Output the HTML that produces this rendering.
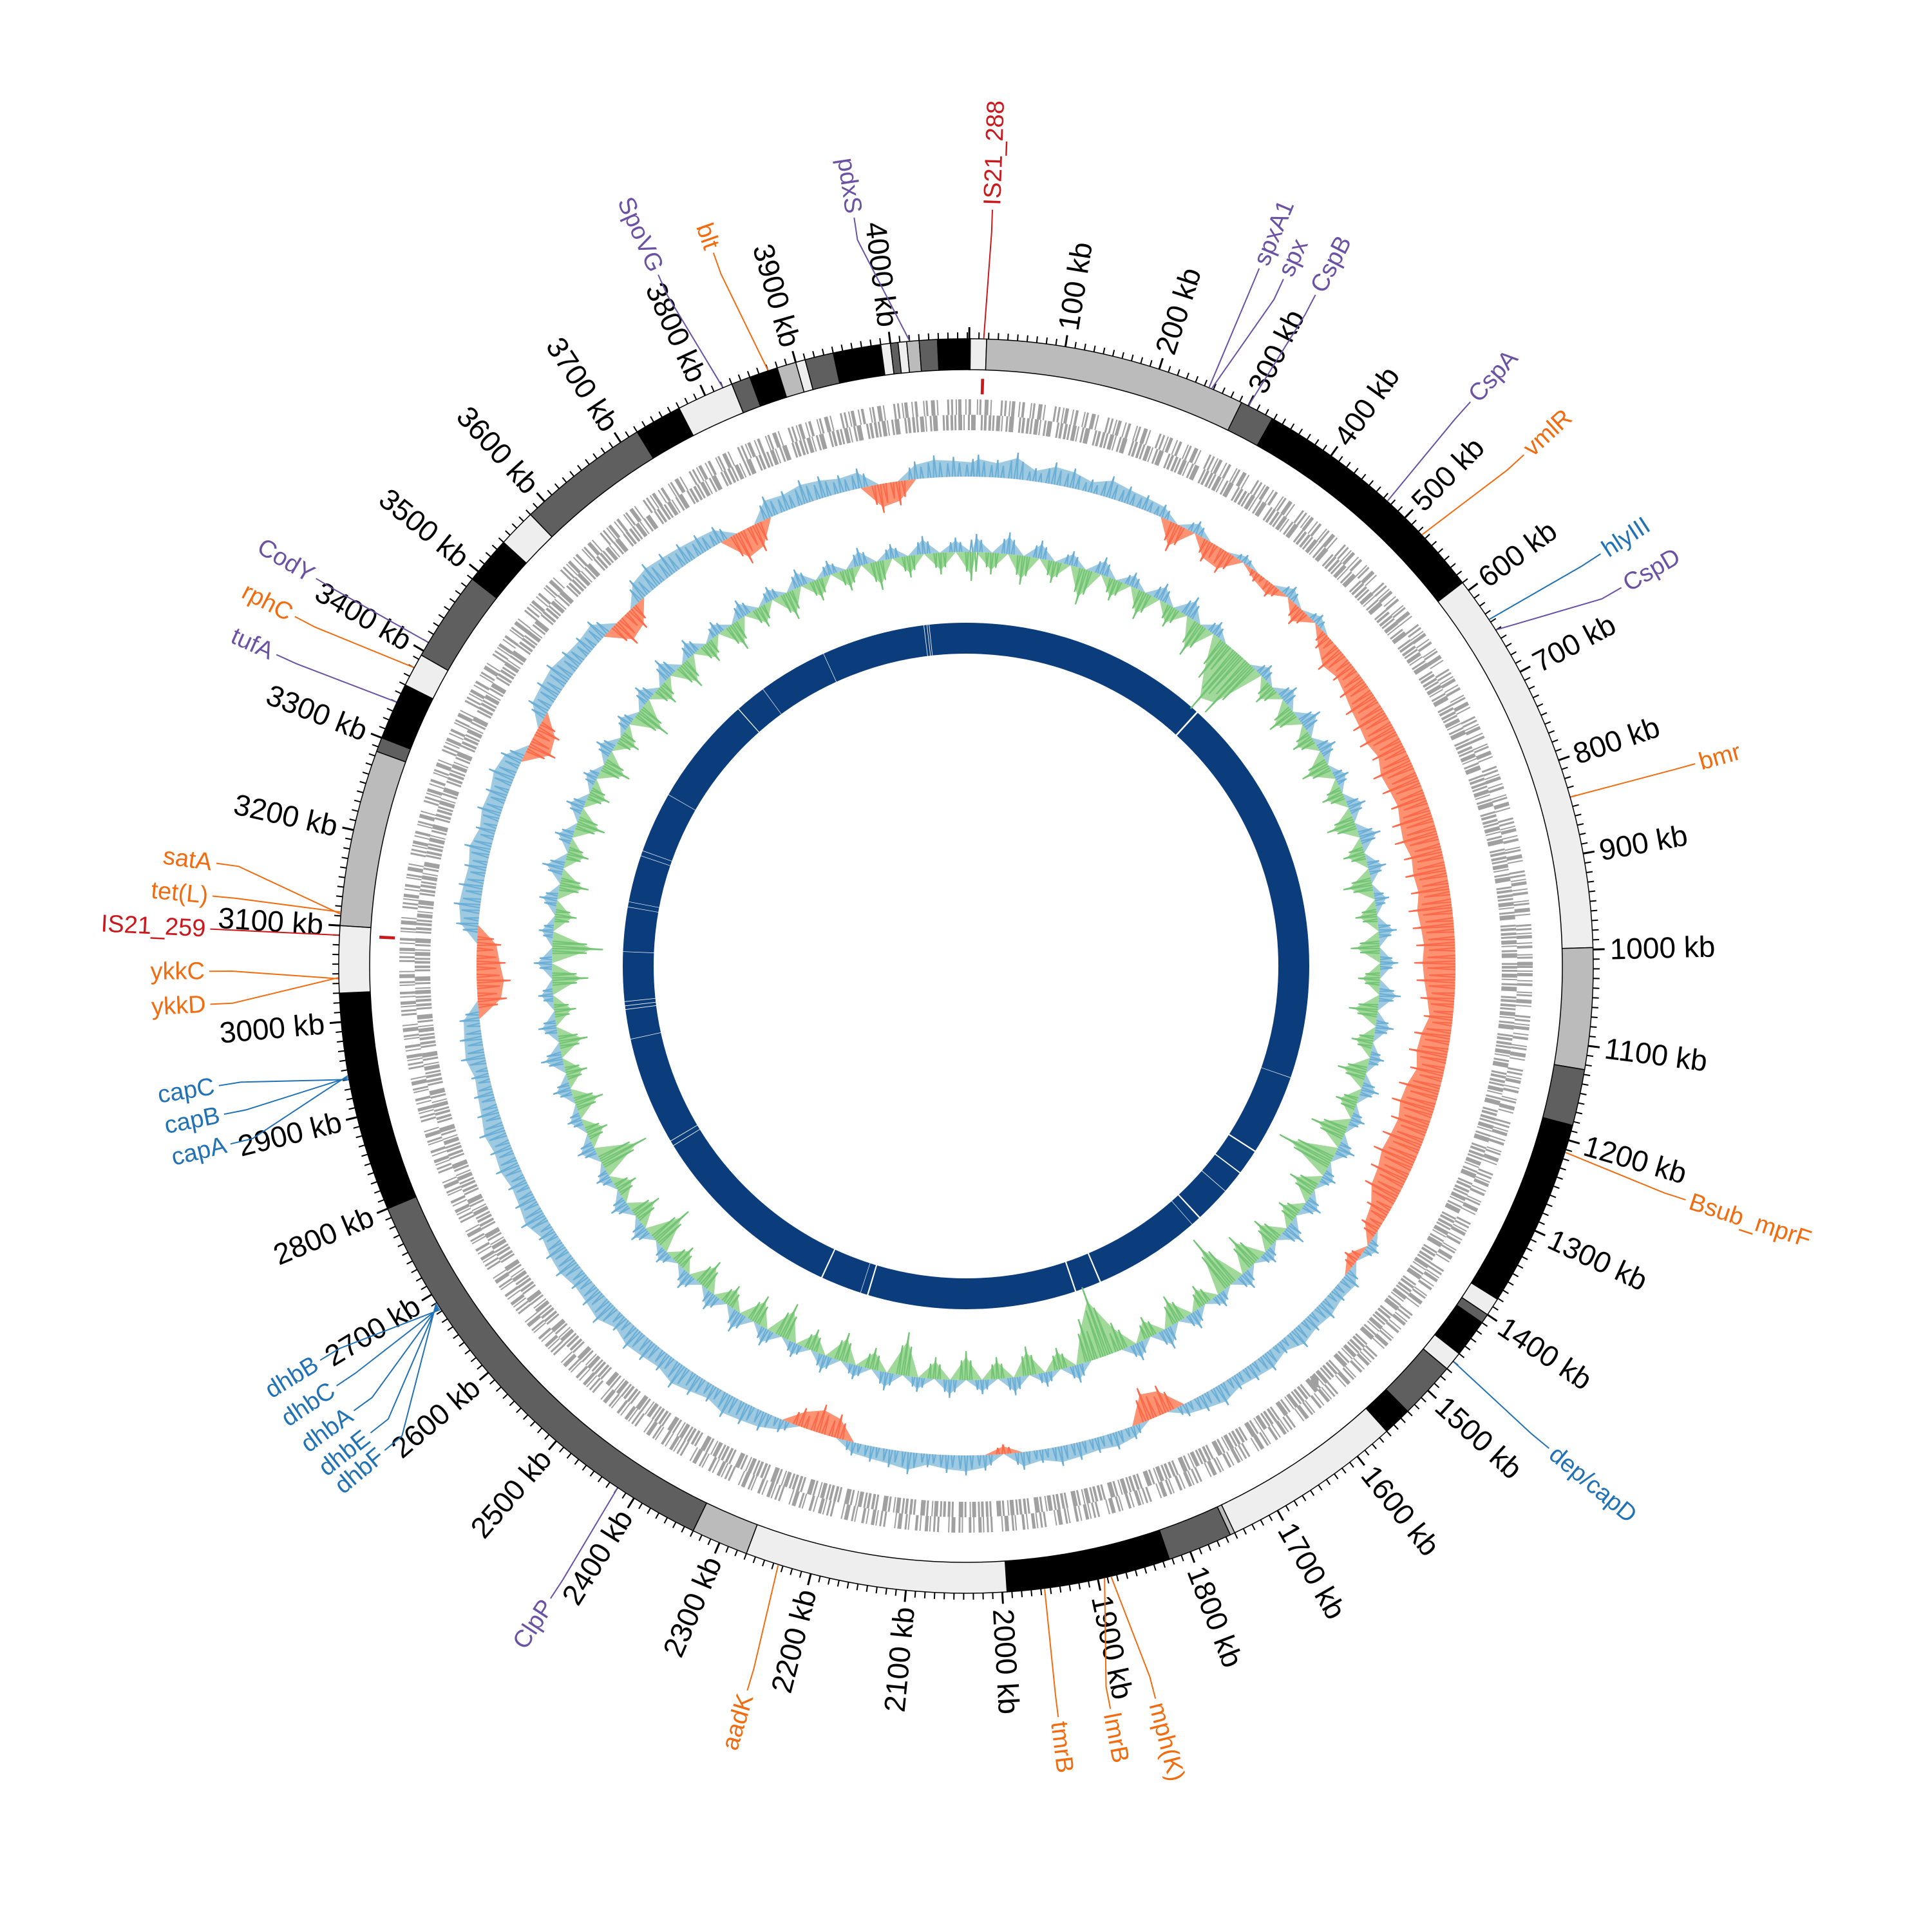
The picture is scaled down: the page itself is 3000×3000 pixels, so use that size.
<!DOCTYPE html>
<html><head><meta charset="utf-8"><style>
html,body{margin:0;padding:0;background:#fff}
svg{display:block}
text{font-family:"Liberation Sans",sans-serif}
</style></head><body>
<svg id="chart" xmlns="http://www.w3.org/2000/svg" width="3000" height="3000" viewBox="0 0 3000 3000">
<rect width="3000" height="3000" fill="#fff"/>
<g id="gBlue"></g>
<g id="gTrack4"></g>
<g id="gTrack3"></g>
<g id="gGenes"></g>
<g id="gContigs"></g>
<g id="gTicks"></g>
<g id="gLabels"></g>
</svg>
<script>
// ---- data ----
const genomeKb = 4082;
const W='#eeeeee', L='#bbbbbb', D='#5f5f5f', B='#000000';
const contigSegments = [[0,W],[18,L],[292,D],[328,B],[590,W],[998,L],[1125,D],[1184,B],[1381,W],[1400,D],[1410,B],[1450,W],[1470,D],[1530,B],[1560,W],[1750,L],[1755,D],[1823,B],[1995,W],[2270,L],[2330,D],[2800,B],[3030,W],[3100,L],[3285,D],[3300,B],[3360,W],[3395,D],[3490,B],[3540,W],[3580,D],[3720,B],[3770,W],[3830,D],[3850,B],[3880,L],[3900,W],[3910,D],[3940,B],[3990,W],[4000,D],[4008,W],[4017,L],[4030,D],[4049,B],[4083,W]];
const blueGapKb = [475,1232,1386,1436,1481,1550,1570,1775,1825,2225,2240,2318,2700,2710,2918,2975,2982,2990,3085,3170,3180,3270,3280,3397,3607,3667,3800,3998,4004,4008];
const blueGapWidthKb = [6,1,5,4,2,5,1,5,5,5,1,5,2,2,1,2,2,2,1,1,1,1,1,1,3,1,1,2,2,2];
const binKb = 25;
const skewValues = [0.5,0.4,0.6,0.3,0.5,0.45,0.3,0.5,0.4,0.35,
 0.3,-0.6,0.3,-0.45,-0.5,0.2,
 -0.2,-0.3,0.3,-0.4,0.25,-0.35,-0.6,-0.5,
 -0.6,-0.7,-0.75,-0.8,-0.7,-0.85,-0.8,-0.75,-0.85,-0.9,-0.8,-0.85,-0.8,-0.9,-0.85,-0.8,
 -0.85,-0.8,-0.7,-0.6,-0.75,-0.8,-0.7,-0.85,-0.9,-0.8,-0.85,-0.9,-0.8,-0.75,-0.5,-0.4,
 0.3,-0.3,0.4,0.35,0.45,0.4,0.5,0.3,0.45,0.4,0.35,0.5,0.4,0.3,
 -0.6,-0.7,0.3,0.4,0.35,0.4,
 0.45,0.3,0.4,-0.2,0.35,0.45,0.4,0.3,0.5,0.4,0.35,0.3,
 -0.5,-0.6,-0.4,0.3,
 0.45,0.5,0.55,0.4,0.5,0.6,0.45,0.5,0.55,0.4,0.6,0.5,0.45,0.55,0.5,0.4,0.6,0.5,0.45,0.55,0.5,0.6,0.5,0.45,0.4,0.55,0.5,0.45,
 -0.6,-0.7,-0.6,-0.5,
 0.5,0.6,0.55,0.5,0.6,0.45,0.55,0.5,0.6,0.5,
 -0.6,-0.5,
 0.5,0.55,0.6,0.5,0.45,0.5,
 -0.6,-0.5,
 0.5,0.6,0.55,0.5,0.45,0.4,
 -0.7,-0.6,
 0.5,0.45,0.55,0.5,0.4,0.45,
 -0.6,-0.5,
 0.4,0.5,0.45,0.4];
const gcValues = [0.5,-0.3,0.6,-0.4,0.5,-0.3,0.4,-0.5,0.5,-0.3,
 0.4,-0.4,0.5,-0.3,0.6,-0.5,0.4,-0.6,-1.0,-0.9,
 0.4,-0.3,0.5,-0.4,0.6,-0.3,0.5,-0.4,0.4,-0.3,
 0.5,-0.4,0.6,-0.3,0.5,-0.4,0.4,-0.3,0.5,-0.4,
 0.5,-0.3,0.6,-0.4,0.5,-0.3,0.4,-0.4,0.5,-0.3,
 0.4,-0.5,0.5,-0.8,0.4,-0.4,0.5,-0.3,0.6,-0.4,
 0.4,-0.5,0.5,-0.8,0.4,-0.3,0.5,-0.4,0.6,-0.3,
 0.5,-0.4,-1.0,-0.6,0.5,-0.3,0.4,-0.4,0.5,-0.3,
 0.4,-0.4,0.5,-0.3,0.4,-0.6,0.5,-0.3,0.4,-0.4,
 0.5,-0.3,0.4,-0.5,0.5,-0.4,0.6,-0.3,0.5,-0.4,
 0.5,-0.3,0.4,-0.6,0.5,-0.4,0.5,-0.3,0.4,-0.7,
 0.5,-0.3,0.4,-0.4,0.5,-0.3,0.6,-0.4,0.5,-0.3,
 0.4,-0.5,0.5,-0.7,0.4,-0.3,0.5,-0.4,0.6,-0.3,
 0.5,-0.4,0.5,-0.3,0.4,-0.4,0.5,-0.3,0.4,-0.5,
 0.5,-0.3,0.6,-0.4,0.5,-0.3,0.4,-0.4,0.5,-0.3,
 0.4,-0.4,0.5,-0.3,0.4,-0.3,0.5,-0.4,0.4,-0.3,
 0.5,-0.3,0.4,-0.4];
const tickLabelsKb = [100,200,300,400,500,600,700,800,900,1000,1100,1200,1300,1400,1500,1600,1700,1800,1900,2000,2100,2200,2300,2400,2500,2600,2700,2800,2900,3000,3100,3200,3300,3400,3500,3600,3700,3800,3900,4000];
const geneNames = ['IS21_288','pdxS','blt','SpoVG','spxA1','spx','CspB','CspA','vmlR','hlyIII','CspD','bmr','Bsub_mprF','dep/capD','mph(K)','lmrB','tmrB','aadK','ClpP','dhbB','dhbC','dhbA','dhbE','dhbF','capC','capB','capA','ykkC','ykkD','IS21_259','satA','tet(L)','tufA','rphC','CodY'];
const geneKb = [15,4020,3870,3820,255,258,300,475,525,637,650,840,1213,1460,1886,1893,1956,2235,2420,2682,2684,2686,2688,2690,2940,2942,2944,3045,3046,3090,3112,3114,3340,3380,3410];
const geneLabelDeg = [2.0,351.5,340.5,336,22.8,24.8,27.5,41.8,47.5,57,60,74.5,108,129.6,165.5,169,173,196.8,213.3,238.6,236.3,234,231.9,230.2,260.9,258.7,256.4,269.6,267.1,272.8,277.8,275.3,294.3,297.5,300.8];
const geneCategory = ['is','reg','amr','reg','reg','reg','reg','reg','amr','vf','reg','amr','amr','vf','amr','amr','amr','amr','reg','vf','vf','vf','vf','vf','vf','vf','vf','amr','amr','is','amr','amr','reg','amr','reg'];
const isElementKb = [15,3090];

const catColor = {is:'#cb181d', reg:'#6a51a3', amr:'#f26b0f', vf:'#2171b5'};
const NS='http://www.w3.org/2000/svg';
const CX=1500, CY=1500;
function angOf(kb){ return 0.3 + kb*360/genomeKb; }
function P(a,r){ const t=a*Math.PI/180; return [CX+r*Math.sin(t), CY-r*Math.cos(t)]; }
function f(v){return v.toFixed(1);}
function sector(a0,a1,r0,r1){
  const large=(a1-a0)>180?1:0;
  const p1=P(a0,r1),p2=P(a1,r1),p3=P(a1,r0),p4=P(a0,r0);
  return `M${f(p1[0])},${f(p1[1])}A${r1},${r1} 0 ${large} 1 ${f(p2[0])},${f(p2[1])}L${f(p3[0])},${f(p3[1])}A${r0},${r0} 0 ${large} 0 ${f(p4[0])},${f(p4[1])}Z`;
}
function mk(tag,parent,attrs){ const e=document.createElementNS(NS,tag); for(const k in attrs) e.setAttribute(k,attrs[k]); parent.appendChild(e); return e; }

// ---- blue ring ----
const gB=document.getElementById('gBlue');
let br=mk('circle',gB,{cx:CX,cy:CY,r:509,fill:'none',stroke:'#0b3d7d','stroke-width':48});


blueGapKb.forEach((k,i)=>{
  const w=blueGapWidthKb[i];
  const a0=angOf(k), a1=angOf(k+Math.max(w*0.55,0.9));
  const p=mk('path',gB,{d:sector(a0,a1,484,534),fill:'#fff'});
  
  
});

// ---- signed track ----
function drawTrack(g,vals,base,sPos,sNeg,posFill,posLine,negFill,negLine,name){
  const n=vals.length;
  ['pos','neg'].forEach(side=>{
    let pts=[];
    for(let i=0;i<n;i++){
      const v=vals[i];
      const use = side==='pos'? Math.max(v,0)*sPos : Math.min(v,0)*sNeg;
      const a=angOf((i+0.5)*binKb);
      pts.push(P(a,base+use));
    }
    pts.push(pts[0]);
    let d='M'+pts.map(p=>f(p[0])+','+f(p[1])).join('L');
    const b0=P(angOf(0),base);
    const b1=P(angOf(genomeKb/2),base);
    const fillPath=mk('path',g,{d:`M${f(b0[0])},${f(b0[1])}A${base},${base} 0 1 1 ${f(b1[0])},${f(b1[1])}A${base},${base} 0 1 1 ${f(b0[0])},${f(b0[1])}Z `+d+'Z',fill:side==='pos'?posFill:negFill,'fill-rule':'evenodd',stroke:'none'});
    
    
    for(let i=0;i<n;i++){
      const v=vals[i];
      const use = side==='pos'? Math.max(v,0)*sPos : Math.min(v,0)*sNeg;
      if(use===0) continue;
      for(let j=0;j<3;j++){
        const kb=(i+0.2+j*0.3)*binKb;
        const amp = use*(j===1?1.25:0.85);
        const q0=P(angOf(kb-2),base), q1=P(angOf(kb),base+amp), q2=P(angOf(kb+2),base);
        const s=mk('path',g,{d:`M${f(q0[0])},${f(q0[1])}L${f(q1[0])},${f(q1[1])}L${f(q2[0])},${f(q2[1])}`,fill:'none',stroke:side==='pos'?posLine:negLine,'stroke-width':2.2});
        
        
      }
    }
  });
}
drawTrack(document.getElementById('gTrack3'),skewValues,760,55,60,'#9ecae1','#6baed6','#fc9272','#fb6a4a','gc-skew');
drawTrack(document.getElementById('gTrack4'),gcValues,643,45,90,'#9ecae1','#6baed6','#a1d99b','#74c476','gc-content');

// ---- gene track ----
const gG=document.getElementById('gGenes');
let gs1=mk('circle',gG,{cx:CX,cy:CY,r:868,fill:'none',stroke:'#a0a0a0','stroke-width':24,'stroke-dasharray':'3 4 2 2 5 6 2 3 4 9 2 2 3 5 6 3 2 14 3 3'});


let gs2=mk('circle',gG,{cx:CX,cy:CY,r:844,fill:'none',stroke:'#a0a0a0','stroke-width':24,'stroke-dasharray':'4 2 3 3 6 2 2 5 3 2 7 8 3 2 4 3'});


isElementKb.forEach(k=>{
  const p=mk('path',gG,{d:sector(angOf(k)-0.15,angOf(k)+0.15,888,912),fill:'#cb181d'});
  
  
});

// ---- contigs ----
const gC=document.getElementById('gContigs');
contigSegments.forEach((seg,i)=>{
  const s=seg[0];
  const e = i+1<contigSegments.length? contigSegments[i+1][0] : genomeKb;
  const p=mk('path',gC,{d:sector(angOf(s),angOf(e),926,974),fill:seg[1],stroke:'#000','stroke-width':1.5});
  
  
});

// ---- ticks ----
const gT=document.getElementById('gTicks');
for(let k=0;k<genomeKb;k+=10){
  const major = k%100===0;
  const a=angOf(k);
  const p0=P(a,974), p1=P(a,major?992:984);
  const t=mk('line',gT,{x1:f(p0[0]),y1:f(p0[1]),x2:f(p1[0]),y2:f(p1[1]),stroke:'#000','stroke-width':major?3:2});
  
  
}
function radialText(parent,a,r,str,size,color){
  const p=P(a,r);
  const right = a%360 < 180;
  const rot = right ? a-90 : a+90;
  const t=mk('text',parent,{x:f(p[0]),y:f(p[1]),'font-size':size,fill:color,'text-anchor':right?'start':'end','dominant-baseline':'central',transform:`rotate(${f(rot)} ${f(p[0])} ${f(p[1])})`});
  t.textContent=str;
  return t;
}
tickLabelsKb.forEach(k=>{
  const t=radialText(gT,angOf(k),1000,k+' kb',46,'#000');
  
  
});

// ---- gene labels ----
const gL=document.getElementById('gLabels');
geneNames.forEach((nm,i)=>{
  const ga=angOf(geneKb[i]), la=geneLabelDeg[i];
  const col=catColor[geneCategory[i]];
  const p0=P(ga,975), p1=P(la,1140), p2=P(la,1175);
  const l=mk('path',gL,{d:`M${f(p0[0])},${f(p0[1])}L${f(p1[0])},${f(p1[1])}L${f(p2[0])},${f(p2[1])}`,fill:'none',stroke:col,'stroke-width':2});
  
  
  const t=radialText(gL,la,1182,nm,38,col);
  
  
});
</script>
</body></html>
